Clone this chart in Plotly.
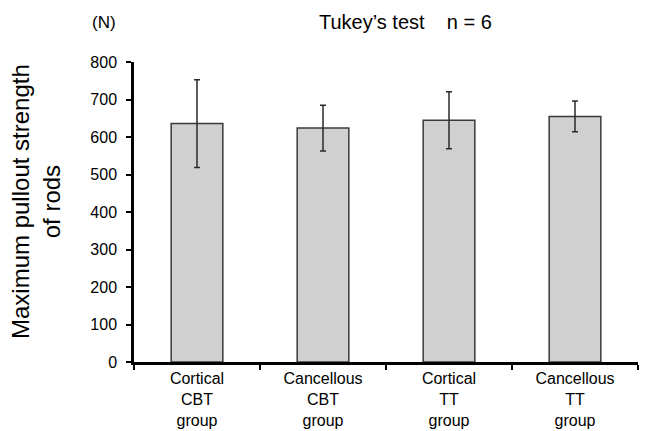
import plotly.graph_objects as go

categories = ["Cortical<br>CBT<br>group", "Cancellous<br>CBT<br>group", "Cortical<br>TT<br>group", "Cancellous<br>TT<br>group"]
means = [636, 624, 645, 655]
sd = [117, 61, 76, 41]
y_ticks = [0, 100, 200, 300, 400, 500, 600, 700, 800]

FONT = "Liberation Sans, Arial, sans-serif"

OFF = 8  # page offset of the figure inside the browser window
W, H = 652, 431
# desired plot area in window pixels: left 134, right 638, top 62, bottom 362
L = 134 - OFF
T = 62 - OFF
R = W - (638 - OFF)
B = H - (362 - OFF)

fig = go.Figure()
fig.add_trace(go.Bar(
    x=categories, y=means, width=0.41,
    marker=dict(color="#d0d0d0", line=dict(color="#3a3a3a", width=1.5)),
    error_y=dict(type="data", array=sd, visible=True, color="#2a2a2a", thickness=1.5, width=3),
))

plot_w = W - L - R
plot_h = H - T - B
def px_to_paper(px, py):
    px -= OFF
    py -= OFF
    return (px - L) / plot_w, (H - B - py) / plot_h

ax, ay = px_to_paper(104, 22)
bx, by = px_to_paper(405, 22)
tx, ty = px_to_paper(36, 202)

fig.update_layout(
    width=W, height=H,
    margin=dict(l=L, r=R, t=T, b=B, autoexpand=False),
    paper_bgcolor="white", plot_bgcolor="white",
    font=dict(family=FONT, color="black"),
    showlegend=False,
    xaxis=dict(
        automargin=False,
        showline=True, linecolor="black", linewidth=2.5,
        ticks="outside", tickson="boundaries", ticklen=5, tickwidth=2, tickcolor="black",
        tickfont=dict(size=16, family=FONT), showgrid=False,
    ),
    yaxis=dict(
        automargin=False,
        range=[0, 800], tickvals=y_ticks,
        showline=True, linecolor="black", linewidth=2.5,
        ticks="outside", ticklen=5, tickwidth=2, tickcolor="black",
        ticklabelstandoff=6,
        tickfont=dict(size=16, family=FONT), showgrid=False, zeroline=False,
    ),
    annotations=[
        dict(text="(N)", x=ax, y=ay, xref="paper", yref="paper", showarrow=False,
             xanchor="center", yanchor="middle", font=dict(size=17, family=FONT)),
        dict(text="Tukey\u2019s test    n = 6", x=bx, y=by, xref="paper", yref="paper", showarrow=False,
             xanchor="center", yanchor="middle", font=dict(size=20, family=FONT)),
        dict(text="Maximum pullout strength<br>of rods", x=tx, y=ty, xref="paper", yref="paper",
             showarrow=False, textangle=-90, xanchor="center", yanchor="middle",
             font=dict(size=24, family=FONT)),
    ],
)

fig.write_html("out.html")
